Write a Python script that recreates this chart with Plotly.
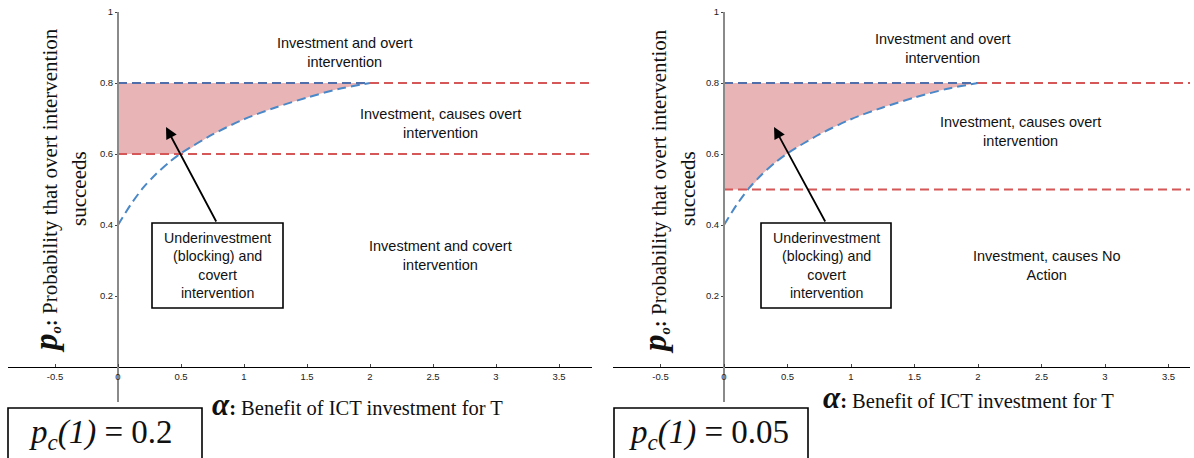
import plotly.graph_objects as go

# ---------------- data ----------------
alpha_curve = [0.0, 0.1, 0.2, 0.3, 0.4, 0.5, 0.75, 1.0, 1.25, 1.5, 1.75, 2.0]
p_curve = [0.400, 0.457, 0.505, 0.543, 0.575, 0.602, 0.655, 0.698, 0.731, 0.759, 0.783, 0.800]
p_overt_line = 0.8
alpha_kink = 2.0
thresholds = [0.6, 0.5]          # lower red dashed line per panel
alpha_ends = [3.76, 3.67]        # right end of the drawn x axis per panel
pc_labels = ["0.2", "0.05"]

x_tick_vals = [-0.5, 0, 0.5, 1, 1.5, 2, 2.5, 3, 3.5]
x_tick_text = ["-0.5", "0", "0.5", "1", "1.5", "2", "2.5", "3", "3.5"]
y_tick_vals = [0.2, 0.4, 0.6, 0.8, 1.0]
y_tick_text = ["0.2", "0.4", "0.6", "0.8", "1"]

region_texts = [
    ["Investment and overt<br>intervention",
     "Investment, causes overt<br>intervention",
     "Investment and covert<br>intervention"],
    ["Investment and overt<br>intervention",
     "Investment, causes overt<br>intervention",
     "Investment, causes No<br>Action"],
]
box_text = "Underinvestment<br>(blocking) and<br>covert<br>intervention"

# ---------------- styling / layout constants ----------------
W, H = 1194, 458
RED = "#d65757"
BLUE_DARK = "#4f6eaa"
BLUE = "#4a88c8"
FILL = "rgba(226,155,158,0.75)"
DASH = "9px,5px"
SANS = "Liberation Sans, Arial"
SERIF = "Liberation Serif, Times New Roman"

def px(x):
    return x / W

def py(y):
    return 1 - y / H

panels = [
    dict(x0=8, x1=592, zero=118, scale=126, ytitle_x=(46, 79), xtitle=(357, 404),
         region_pos=[(1.794, 0.885), (2.556, 0.687), (2.556, 0.315)],
         box=(152, 223, 283, 308), arrow_tip=(0.381, 0.676), arrow_base=(217, 223),
         pc_box=(8, 408, 202), pc_text=(101, 434)),
    dict(x0=613, x1=1190, zero=724, scale=127, ytitle_x=(655, 688), xtitle=(968, 397),
         region_pos=[(1.724, 0.896), (2.331, 0.662), (2.543, 0.285)],
         box=(761, 223, 891, 308), arrow_tip=(0.394, 0.676), arrow_base=(826, 223),
         pc_box=(614, 408, 808), pc_text=(709, 434)),
]
Y_TOP, Y_BOT, Y_ZERO, Y_SCALE = 12, 402, 367, 355

fig = go.Figure()
layout = dict(width=W, height=H, margin=dict(l=0, r=0, t=0, b=0, autoexpand=False),
              paper_bgcolor="white", plot_bgcolor="white", showlegend=False)
annotations = []
shapes = []

def ann(**kw):
    base = dict(xanchor="center", yanchor="middle", showarrow=False)
    base.update(kw)
    annotations.append(base)

for i, pn in enumerate(panels):
    k = "" if i == 0 else str(i + 1)
    xa, ya = "x" + k, "y" + k
    thr = thresholds[i]
    aend = alpha_ends[i]
    lower = [max(p, thr) for p in p_curve]

    # shaded region between the overt line and max(curve, threshold)
    fig.add_trace(go.Scatter(x=[alpha_curve[0], alpha_kink], y=[p_overt_line, p_overt_line],
                             mode="lines", line=dict(width=0), xaxis=xa, yaxis=ya,
                             hoverinfo="skip"))
    fig.add_trace(go.Scatter(x=alpha_curve, y=lower, mode="lines",
                             line=dict(width=0, shape="spline", smoothing=0.8),
                             fill="tonexty", fillcolor=FILL, xaxis=xa, yaxis=ya,
                             hoverinfo="skip"))
    # lower threshold red dashed
    fig.add_trace(go.Scatter(x=[0, aend], y=[thr, thr], mode="lines",
                             line=dict(color=RED, width=2, dash=DASH), xaxis=xa, yaxis=ya))
    # overt line: red beyond the kink, dark blue before it
    fig.add_trace(go.Scatter(x=[alpha_kink, aend], y=[p_overt_line, p_overt_line], mode="lines",
                             line=dict(color=RED, width=2, dash=DASH), xaxis=xa, yaxis=ya))
    fig.add_trace(go.Scatter(x=[0, alpha_kink], y=[p_overt_line, p_overt_line], mode="lines",
                             line=dict(color=BLUE_DARK, width=2, dash=DASH), xaxis=xa, yaxis=ya))
    # curve
    fig.add_trace(go.Scatter(x=alpha_curve, y=p_curve, mode="lines",
                             line=dict(color=BLUE, width=2, dash=DASH, shape="spline", smoothing=0.8),
                             xaxis=xa, yaxis=ya))

    xr = [(pn["x0"] - pn["zero"]) / pn["scale"], (pn["x1"] - pn["zero"]) / pn["scale"]]
    yr = [(Y_ZERO - Y_BOT) / Y_SCALE, (Y_ZERO - Y_TOP) / Y_SCALE]
    layout["xaxis" + k] = dict(domain=[px(pn["x0"]), px(pn["x1"])], range=xr,
                               anchor="free", position=py(Y_ZERO),
                               showline=True, linecolor="black", linewidth=1.2,
                               showgrid=False, zeroline=False,
                               tickmode="array", tickvals=x_tick_vals, ticktext=x_tick_text,
                               ticks="inside", ticklen=3, tickcolor="#444",
                               tickfont=dict(family=SANS, size=9.5, color="#222"))
    layout["yaxis" + k] = dict(domain=[py(Y_BOT), py(Y_TOP)], range=yr,
                               anchor="free", position=px(pn["zero"]),
                               showline=True, linecolor="#8a8a8a", linewidth=2,
                               showgrid=False, zeroline=False,
                               tickmode="array", tickvals=y_tick_vals, ticktext=y_tick_text,
                               ticks="outside", ticklen=2, tickcolor="#444",
                               tickfont=dict(family=SANS, size=9.5, color="#222"))

    # region labels
    for txt, (ax_, ay_) in zip(region_texts[i], pn["region_pos"]):
        ann(x=ax_, y=ay_, xref=xa, yref=ya, text=txt, align="center",
            font=dict(family=SANS, size=14.5, color="#111"))

    # underinvestment box
    bx0, by0, bx1, by1 = pn["box"]
    shapes.append(dict(type="rect", xref="paper", yref="paper",
                       x0=px(bx0), x1=px(bx1), y0=py(by1), y1=py(by0),
                       line=dict(color="black", width=1.6), fillcolor="white", layer="above"))
    ann(x=px((bx0 + bx1) / 2), y=py((by0 + by1) / 2), xref="paper", yref="paper",
        text=box_text, align="center",
        font=dict(family=SANS, size=14.2, color="#111"))
    # arrow
    tx, ty = pn["arrow_tip"]
    tip_px = (pn["zero"] + tx * pn["scale"], Y_ZERO - ty * Y_SCALE)
    annotations.append(dict(x=tx, y=ty, xref=xa, yref=ya, text="", showarrow=True,
                            arrowhead=2, arrowsize=1.3, arrowwidth=1.8, arrowcolor="black",
                            ax=pn["arrow_base"][0] - tip_px[0], ay=pn["arrow_base"][1] - tip_px[1],
                            standoff=0, startstandoff=0))

    # y-axis title
    ann(x=px(pn["ytitle_x"][0]), y=py(191), xref="paper", yref="paper", textangle=-90,
        text="<span style='font-size:33px'><b><i>p</i></b></span><sub><b><i>o</i></b></sub>"
             "<b>:</b> Probability that overt intervention",
        font=dict(family=SERIF, size=21, color="#111"))
    ann(x=px(pn["ytitle_x"][1]), y=py(189), xref="paper", yref="paper", textangle=-90,
        text="succeeds",
        font=dict(family=SERIF, size=21, color="#111"))
    # x-axis title
    ann(x=px(pn["xtitle"][0]), y=py(pn["xtitle"][1]), xref="paper", yref="paper",
        text="<span style='font-size:31px'><b><i>α</i></b></span><b>:</b> Benefit of ICT investment for T",
        font=dict(family=SERIF, size=20.5, color="#111"))
    # p_c(1) box
    cx0, cy0, cx1 = pn["pc_box"]
    shapes.append(dict(type="rect", xref="paper", yref="paper",
                       x0=px(cx0), x1=px(cx1), y0=py(475), y1=py(cy0),
                       line=dict(color="black", width=1.6), fillcolor="white"))
    ann(x=px(pn["pc_text"][0]), y=py(pn["pc_text"][1]), xref="paper", yref="paper",
        text="<i>p</i><sub><i>c</i></sub><i>(1)</i> = " + pc_labels[i],
        font=dict(family=SERIF, size=33, color="#111"))

layout["annotations"] = annotations
layout["shapes"] = shapes
fig.update_layout(**layout)
fig.write_html("out.html", config={"displayModeBar": False},
               post_script="document.body.style.margin='0px';document.body.style.padding='0px';")
